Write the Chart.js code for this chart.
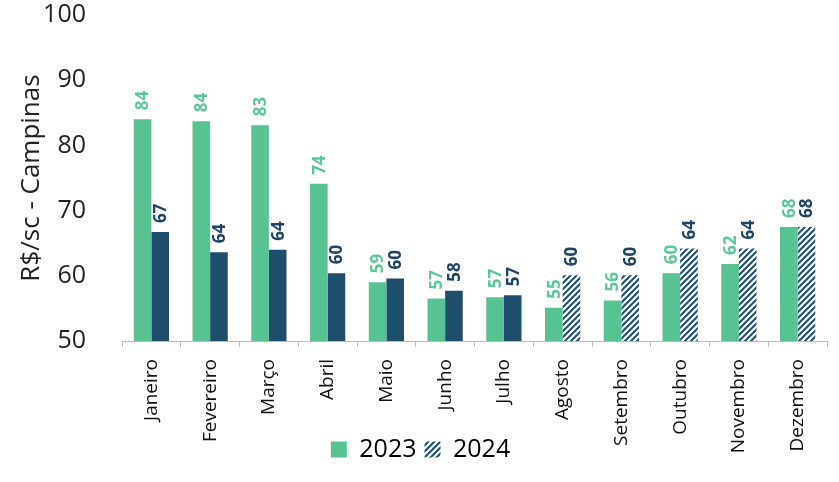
<!DOCTYPE html>
<html>
<head>
<meta charset="utf-8">
<script src="https://cdn.jsdelivr.net/npm/chart.js@4"></script>
<style>
  html, body { margin: 0; padding: 0; background: #fff; }
  #wrap { width: 839px; height: 482px; }
</style>
</head>
<body>
<div id="wrap"><canvas id="precoChart"></canvas></div>
<script>
const meses = ['Janeiro', 'Fevereiro', 'Março', 'Abril', 'Maio', 'Junho', 'Julho', 'Agosto', 'Setembro', 'Outubro', 'Novembro', 'Dezembro'];
const valores2023 = [84.0, 83.7, 83.1, 74.1, 59.0, 56.5, 56.7, 55.1, 56.2, 60.4, 61.8, 67.5];
const valores2024 = [66.7, 63.6, 64.0, 60.4, 59.6, 57.7, 57.0, 60.1, 60.1, 64.2, 64.2, 67.5];
const rotulos2023 = [84, 84, 83, 74, 59, 57, 57, 55, 56, 60, 62, 68];
const rotulos2024 = [67, 64, 64, 60, 60, 58, 57, 60, 60, 64, 64, 68];
const projetado2024 = [false, false, false, false, false, false, false, true, true, true, true, true];
const yTicks = [50, 60, 70, 80, 90, 100];

const verde = '#58C392';
const azul = '#1F4E6D';

// hatch pattern for projected months
function hatch() {
    const c = document.createElement('canvas');
    c.width = 6; c.height = 6;
    const g = c.getContext('2d');
    g.fillStyle = '#fff';
    g.fillRect(0, 0, 6, 6);
    g.strokeStyle = azul;
    g.lineWidth = 2;
    g.beginPath();
    g.moveTo(-1, 7); g.lineTo(7, -1);
    g.moveTo(-4, 4); g.lineTo(4, -4);
    g.moveTo(2, 10); g.lineTo(10, 2);
    g.stroke();
    return g.createPattern(c, 'repeat');
}
const listra = hatch();

const valueLabels = {
    id: 'valueLabels',
    afterDatasetsDraw(chart) {
        const ctx = chart.ctx;
        const rotulos = [rotulos2023, rotulos2024];
        const cores = ['#5DC79A', '#1F4463'];
        chart.data.datasets.forEach((ds, i) => {
            const meta = chart.getDatasetMeta(i);
            meta.data.forEach((bar, j) => {
                ctx.save();
                ctx.translate(bar.x, bar.y - 9);
                ctx.rotate(-Math.PI / 2);
                ctx.font = 'bold 17px "Open Sans"';
                ctx.fillStyle = cores[i];
                ctx.textAlign = 'left';
                ctx.textBaseline = 'middle';
                ctx.fillText(String(rotulos[i][j]), 0, 1);
                ctx.restore();
            });
        });
    }
};

const ctx = document.getElementById('precoChart').getContext('2d');
new Chart(ctx, {
    type: 'bar',
    data: {
        labels: meses,
        datasets: [{
            label: '2023',
            data: valores2023,
            backgroundColor: verde,
            categoryPercentage: 0.6,
            barPercentage: 1.0
        }, {
            label: '2024',
            data: valores2024,
            backgroundColor: projetado2024.map(p => p ? listra : azul),
            categoryPercentage: 0.6,
            barPercentage: 1.0
        }]
    },
    options: {
        responsive: true,
        maintainAspectRatio: false,
        animation: false,
        layout: { padding: { top: 0, right: 12, left: 14, bottom: 10 } },
        plugins: {
            tooltip: { enabled: false },
            legend: {
                position: 'bottom',
                labels: {
                    color: '#111',
                    font: { family: 'Open Sans', size: 25 },
                    boxWidth: 16,
                    boxHeight: 16,
                    padding: 8,
                    generateLabels: () => [
                        { text: '2023', fillStyle: verde, strokeStyle: verde, lineWidth: 0, datasetIndex: 0 },
                        { text: '2024', fillStyle: listra, strokeStyle: '#fff', lineWidth: 0, datasetIndex: 1 }
                    ]
                }
            }
        },
        scales: {
            x: {
                grid: { display: true, drawOnChartArea: false, color: '#bbb', tickLength: 6, offset: true },
                border: { color: '#bbb' },
                ticks: {
                    color: '#111',
                    font: { family: 'Open Sans', size: 19 },
                    minRotation: 90,
                    maxRotation: 90,
                    padding: 12
                },
                // labels run past the box; the legend sits beside them, so no clipping
                afterFit: axis => {
                    axis.height = 88;
                    axis._computeLabelArea = () => null;
                }
            },
            y: {
                min: 50,
                max: 100,
                afterBuildTicks: axis => { axis.ticks = yTicks.map(v => ({ value: v })); },
                grid: { display: false },
                border: { display: false },
                ticks: {
                    color: '#222',
                    font: { family: 'Open Sans', size: 25 },
                    padding: 28
                },
                title: {
                    display: true,
                    text: 'R$/sc - Campinas',
                    color: '#222',
                    font: { family: 'Open Sans', size: 26 },
                    padding: { top: 2, bottom: 2 }
                },
                afterFit: axis => {
                    axis.width = 108;
                    axis.paddingTop = 15;
                    axis.paddingBottom = 15;
                }
            }
        }
    },
    plugins: [valueLabels]
});
</script>
</body>
</html>
